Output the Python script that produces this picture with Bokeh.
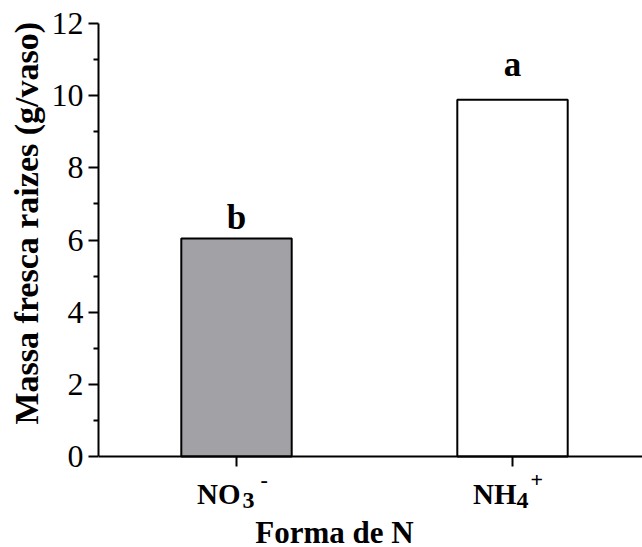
from bokeh.plotting import figure
from bokeh.models import Range1d, FixedTicker, Label, Span, Title
from bokeh.embed import file_html
from bokeh.resources import INLINE

# Data
cat_base = ["NO", "NH"]
cat_sub = ["3", "4"]
cat_sup = ["-", "+"]
values = [6.04, 9.89]
letters = ["b", "a"]
letter_heights = [6.62, 10.86]
bar_colors = ["#a2a1a6", "#ffffff"]
xpos = [1, 2]
y_major = [0, 2, 4, 6, 8, 10, 12]
y_minor = [1, 3, 5, 7, 9, 11]

SERIF = "Liberation Serif"
W, H = 642, 547
TOP, LEFT, ZERO_PX = 23, 98, 456
px_per_unit = (ZERO_PX - TOP) / 12.0
y_bottom = -(H - ZERO_PX) / px_per_unit

p = figure(width=W, height=H, output_backend="svg", toolbar_location=None,
           x_range=Range1d(0.5, 2.471), y_range=Range1d(y_bottom, 12),
           x_axis_location=None,
           min_border_left=LEFT, min_border_right=0, min_border_top=TOP,
           min_border_bottom=0)
p.outline_line_color = None
p.xgrid.visible = False
p.ygrid.visible = False
p.background_fill_color = "white"
p.border_fill_color = "white"

p.vbar(x=xpos, top=values, width=0.4, bottom=0, fill_color=bar_colors,
       line_color="black", line_width=2)

# y axis, limited to the 0-12 span
ya = p.yaxis[0]
ya.bounds = (0, 12)
ya.ticker = FixedTicker(ticks=y_major, minor_ticks=y_minor)
ya.axis_line_width = 2
ya.major_tick_line_width = 2
ya.minor_tick_line_width = 2
ya.major_tick_in = 0
ya.major_tick_out = 10
ya.minor_tick_in = 0
ya.minor_tick_out = 5
ya.major_label_text_font = SERIF
ya.major_label_text_font_size = "32px"
ya.major_label_text_color = "black"
ya.major_label_standoff = 5

# y axis title, starting just above the bottom of the axis span
p.add_layout(Title(text="Massa fresca raizes (g/vaso)", align="left",
                   offset=(H - ZERO_PX) + 32, text_font=SERIF,
                   text_font_size="34px", text_font_style="bold",
                   text_color="black", standoff=8), "left")

# x axis line and category ticks at y = 0
p.add_layout(Span(location=0, dimension="width", line_color="black",
                  line_width=2))
tick_len = 10 / px_per_unit
p.segment(x0=xpos, y0=[0, 0], x1=xpos, y1=[-tick_len, -tick_len],
          line_color="black", line_width=2)

def ydata(pix_below_zero):
    return -pix_below_zero / px_per_unit

sub_offset = [6, 4]
sup_offset = [24, 18]
for i, (x, base, sub, sup) in enumerate(zip(xpos, cat_base, cat_sub, cat_sup)):
    p.add_layout(Label(x=x, y=ydata(37), text=base, text_align="right",
                       text_baseline="alphabetic", x_offset=4,
                       text_font=SERIF, text_font_size="29px",
                       text_font_style="bold", text_color="black"))
    p.add_layout(Label(x=x, y=ydata(44), text=sub, text_align="left",
                       text_baseline="alphabetic", x_offset=sub_offset[i],
                       text_font=SERIF, text_font_size="24px",
                       text_font_style="bold", text_color="black"))
    p.add_layout(Label(x=x, y=ydata(23), text=sup, text_align="left",
                       text_baseline="alphabetic", x_offset=sup_offset[i],
                       text_font=SERIF, text_font_size="22px",
                       text_font_style="bold", text_color="black"))

# x axis title
p.add_layout(Label(x=1.355, y=ydata(76), text="Forma de N", text_align="center",
                   text_baseline="alphabetic", text_font=SERIF,
                   text_font_size="31px", text_font_style="bold",
                   text_color="black"))

# significance letters
for x, lt, h in zip(xpos, letters, letter_heights):
    p.add_layout(Label(x=x, y=h, text=lt, text_align="center",
                       text_baseline="alphabetic", text_font=SERIF,
                       text_font_size="35px", text_font_style="bold",
                       text_color="black"))

open("out.html", "w").write(file_html(p, INLINE))
